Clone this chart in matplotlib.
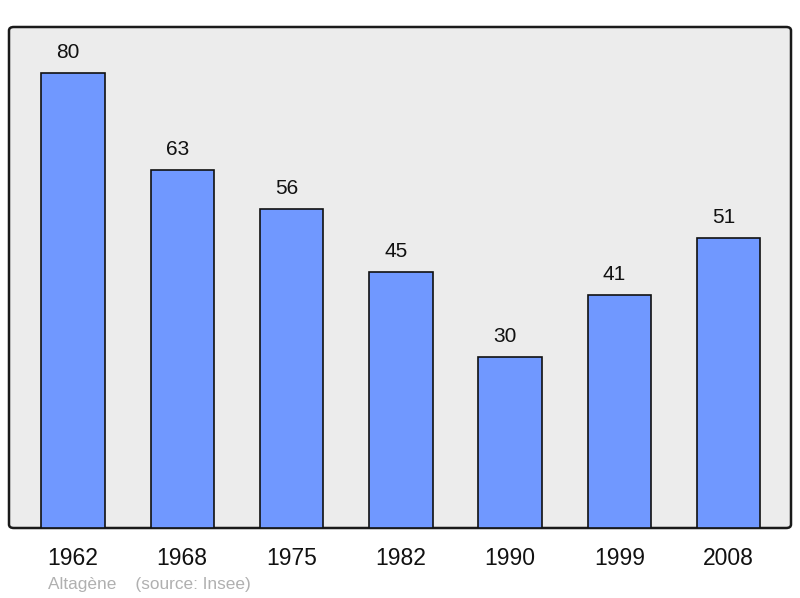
import matplotlib
matplotlib.use('Agg')
from matplotlib import pyplot as plt
from matplotlib.patches import FancyBboxPatch

years = ['1962', '1968', '1975', '1982', '1990', '1999', '2008']
population = [80, 63, 56, 45, 30, 41, 51]

W, H = 800, 598
plt.rcParams['font.family'] = ['Liberation Sans', 'DejaVu Sans']

fig = plt.figure(figsize=(W / 100, H / 100), dpi=100)
# frame box in pixels: x 9..791, y 27..528
left, right, top, bottom = 9, 791, 27, 528
box = FancyBboxPatch((left / W, 1 - bottom / H), (right - left) / W, (bottom - top) / H,
                     boxstyle='round,pad=0,rounding_size=0.006',
                     transform=fig.transFigure, facecolor='#ececec',
                     edgecolor='#1a1a1a', linewidth=1.8, zorder=0)
fig.patches.append(box)

ax = fig.add_axes([left / W, 1 - bottom / H, (right - left) / W, (bottom - top) / H])
ax.set_zorder(2)
ax.set_facecolor('none')
x = list(range(len(years)))
ax.bar(x, population, width=0.58, color='#7098ff', edgecolor='#111111', linewidth=1.2, zorder=2)
for xi, v in zip(x, population):
    ax.annotate(str(v), (xi, v), xytext=(-3.6, 10.8), textcoords='offset points',
                ha='center', va='baseline', fontsize=15, color='#111111')
ax.set_xlim(-0.585, 6.57)
ax.set_ylim(0, 88.05)
for s in ax.spines.values():
    s.set_visible(False)
ax.set_yticks([])
ax.set_xticks(x)
ax.set_xticklabels(years, fontsize=16.5, color='#111111')
ax.tick_params(axis='x', length=0, pad=14)

fig.text(48 / W, 1 - 584 / H, 'Altagène    (source: Insee)', fontsize=12.4,
         color='#b0b0b0', va='center', ha='left')

fig.savefig('out.png', dpi=100)
